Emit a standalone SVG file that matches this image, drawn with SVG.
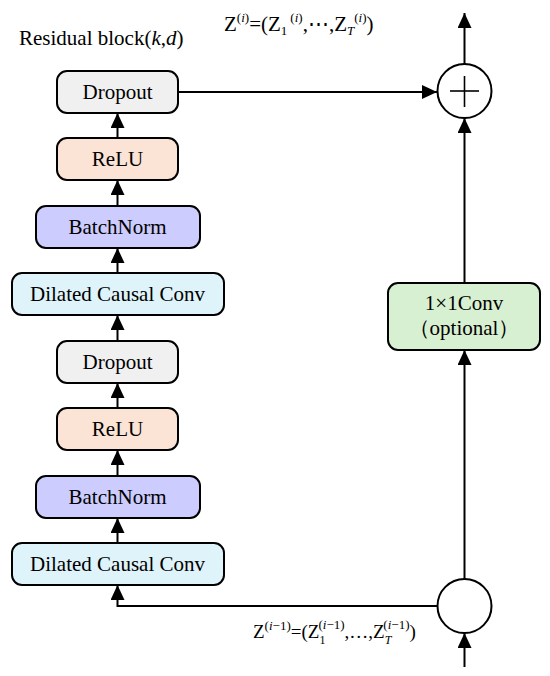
<svg xmlns="http://www.w3.org/2000/svg" width="550" height="676" viewBox="0 0 550 676">
<defs>
<marker id="ah" markerUnits="userSpaceOnUse" markerWidth="15" markerHeight="14" refX="15" refY="7" orient="auto">
<path d="M0,0 L15,7 L0,14 z" fill="#000"/>
</marker>
<style>
.box{stroke:#000;stroke-width:2}
.lbl{font-family:"Liberation Serif","Times New Roman",serif;font-size:21px;fill:#000;text-anchor:middle}
.con{stroke:#000;stroke-width:2;fill:none}
.drop{fill:#f0f0f0}
.relu{fill:#fbe3d6}
.bn{fill:#ccccfe}
.dcc{fill:#dff3fa}
.c11{fill:#d8f0d2}
.math{font-family:"Liberation Serif","Times New Roman",serif;fill:#000}
</style>
</defs>
<rect width="550" height="676" fill="#fff"/>
<text x="19" y="45" class="math" font-size="21">Residual block(<tspan font-style="italic">k</tspan>,<tspan font-style="italic">d</tspan>)</text>
<text x="224" y="31" class="math" font-size="21">Z<tspan font-size="13" dy="-9">(<tspan font-style="italic">i</tspan>)</tspan><tspan dy="9">=(Z</tspan><tspan font-size="13" dy="4">1</tspan><tspan font-size="13" dy="-13" dx="3">(<tspan font-style="italic">i</tspan>)</tspan><tspan dy="9">,⋯,Z</tspan><tspan font-size="13" dy="4" font-style="italic">T</tspan><tspan font-size="13" dy="-13">(<tspan font-style="italic">i</tspan>)</tspan><tspan dy="9">)</tspan></text>
<text x="253" y="638" class="math" font-size="19">Z<tspan font-size="13" dy="-8">(<tspan font-style="italic">i</tspan>−1)</tspan><tspan dy="8">=(Z</tspan><tspan font-size="12" dy="6">1</tspan><tspan font-size="13" dx="-7" dy="-15">(<tspan font-style="italic">i</tspan>−1)</tspan><tspan dy="9">,…,Z</tspan><tspan font-size="12" dy="6" font-style="italic">T</tspan><tspan font-size="13" dx="-8" dy="-15">(<tspan font-style="italic">i</tspan>−1)</tspan><tspan dy="9">)</tspan></text>
<g id="connectors">
<line class="con" x1="117.5" y1="138" x2="117.5" y2="113" marker-end="url(#ah)"/>
<line class="con" x1="117.5" y1="206" x2="117.5" y2="180" marker-end="url(#ah)"/>
<line class="con" x1="117.5" y1="273" x2="117.5" y2="248" marker-end="url(#ah)"/>
<line class="con" x1="117.5" y1="341" x2="117.5" y2="315" marker-end="url(#ah)"/>
<line class="con" x1="117.5" y1="408" x2="117.5" y2="383" marker-end="url(#ah)"/>
<line class="con" x1="117.5" y1="476" x2="117.5" y2="450" marker-end="url(#ah)"/>
<line class="con" x1="117.5" y1="543" x2="117.5" y2="518" marker-end="url(#ah)"/>
<polyline class="con" points="437.5,606 117.5,606 117.5,585" marker-end="url(#ah)"/>
<line class="con" x1="178" y1="92" x2="437" y2="92" marker-end="url(#ah)"/>
<line class="con" x1="464.5" y1="579" x2="464.5" y2="350" marker-end="url(#ah)"/>
<line class="con" x1="464.5" y1="283" x2="464.5" y2="118" marker-end="url(#ah)"/>
<line class="con" x1="464.5" y1="64" x2="464.5" y2="13" marker-end="url(#ah)"/>
<line class="con" x1="464.5" y1="667" x2="464.5" y2="633" marker-end="url(#ah)"/>
</g>
<g id="dropout2"><rect class="box drop" x="57" y="71" width="121" height="42" rx="10"/><text class="lbl" x="117.5" y="99">Dropout</text></g>
<g id="relu2"><rect class="box relu" x="57" y="138" width="121" height="42" rx="10"/><text class="lbl" x="117.5" y="166">ReLU</text></g>
<g id="batchnorm2"><rect class="box bn" x="36" y="206" width="164" height="42" rx="10"/><text class="lbl" x="117.5" y="234">BatchNorm</text></g>
<g id="dcc2"><rect class="box dcc" x="12" y="273" width="212" height="42" rx="10"/><text class="lbl" x="117.5" y="301">Dilated Causal Conv</text></g>
<g id="dropout1"><rect class="box drop" x="57" y="341" width="121" height="42" rx="10"/><text class="lbl" x="117.5" y="369">Dropout</text></g>
<g id="relu1"><rect class="box relu" x="57" y="408" width="121" height="42" rx="10"/><text class="lbl" x="117.5" y="436">ReLU</text></g>
<g id="batchnorm1"><rect class="box bn" x="36" y="476" width="164" height="42" rx="10"/><text class="lbl" x="117.5" y="504">BatchNorm</text></g>
<g id="dcc1"><rect class="box dcc" x="12" y="543" width="212" height="42" rx="10"/><text class="lbl" x="117.5" y="571">Dilated Causal Conv</text></g>
<g id="conv1x1"><rect class="box c11" x="388" y="283" width="152" height="67" rx="10"/><text class="lbl" x="464" y="310">1×1Conv</text><text class="lbl" x="464" y="335">（optional）</text></g>
<g id="add"><circle cx="464.5" cy="91" r="27" fill="#fff" stroke="#000" stroke-width="2"/><line x1="450" y1="91" x2="479" y2="91" stroke="#000" stroke-width="1.6"/><line x1="464.5" y1="76" x2="464.5" y2="107" stroke="#000" stroke-width="1.6"/></g>
<g id="split"><circle cx="464.5" cy="606" r="27" fill="#fff" stroke="#000" stroke-width="2"/></g>
</svg>
